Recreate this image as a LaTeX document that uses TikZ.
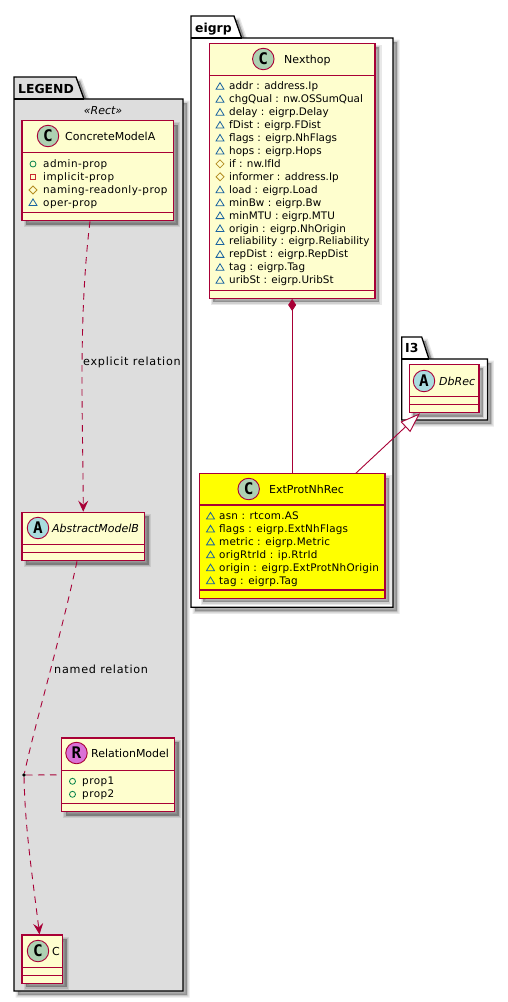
\documentclass[tikz,border=0pt]{standalone}
\usepackage{fontspec}
\setmainfont{DejaVu Sans}
\newfontfamily\monobf{DejaVu Sans Mono}[BoldFont=* Bold]
\newfontfamily\widefont{DejaVu Sans}[LetterSpace=4.4]
\newfontfamily\midfont{DejaVu Sans}[LetterSpace=2]
\newfontfamily\lblfont{DejaVu Sans}[LetterSpace=6.5]
\usetikzlibrary{arrows.meta,calc}
\definecolor{crim}{HTML}{A80036}
\definecolor{cream}{HTML}{FEFECE}
\definecolor{legendgray}{HTML}{DDDDDD}
\definecolor{circC}{HTML}{ADD1B2}
\definecolor{circA}{HTML}{A9DCDF}
\definecolor{circR}{HTML}{DA70D6}
\definecolor{pubc}{HTML}{038048}
\definecolor{pric}{HTML}{C82930}
\definecolor{proc}{HTML}{B38D22}
\definecolor{pacc}{HTML}{1963A0}
\definecolor{pureyellow}{HTML}{FFFF00}
\tikzset{
  softshadow/.style={
    preaction={fill=black,fill opacity=.09,draw=black,draw opacity=.09,line width=5pt,transform canvas={shift={(4pt,-4pt)}}},
    preaction={fill=black,fill opacity=.1,draw=black,draw opacity=.1,line width=2.5pt,transform canvas={shift={(4pt,-4pt)}}},
    preaction={fill=black,fill opacity=.14,draw=none,transform canvas={shift={(4pt,-4pt)}}}},
  classbox/.style={draw=crim,line width=1.2pt,fill=cream,rectangle,inner sep=0pt,softshadow},
  pkgbody/.style={draw=black,line width=1.3pt,softshadow},
  comp/.style={draw=crim,line width=1.1pt},
  badge/.style={circle,draw=crim,line width=.9pt,minimum size=21.5pt,inner sep=0pt,font=\fontsize{16}{16}\selectfont\bfseries\monobf},
  cname/.style={inner sep=0pt,anchor=base west,font=\fontsize{11}{13}\selectfont},
  attr/.style={inner sep=0pt,anchor=base west,font=\fontsize{10.4}{12}\selectfont},
  attrw/.style={attr,font=\fontsize{10.4}{12}\selectfont\widefont},
  attrm/.style={attr,font=\fontsize{10.4}{12}\selectfont\midfont},
  pkgname/.style={inner sep=0pt,anchor=base west,font=\fontsize{12.4}{14}\selectfont\bfseries},
  conn/.style={draw=crim,line width=.9pt},
  dashconn/.style={conn,dash pattern=on 6.5pt off 5.5pt},
  openarrow/.style={-{Stealth[length=11pt,width=10pt,inset=4pt,sep=0pt]}},
  lbl/.style={inner sep=0pt,anchor=base west,font=\fontsize{11.2}{13}\selectfont\lblfont}
}
\newcommand{\iconp}[2]{\draw[pubc,line width=.8pt] (#1,#2) circle (3pt);}
\newcommand{\iconq}[2]{\draw[pric,line width=.8pt] ($(#1,#2)+(-2.8,-2.8)$) rectangle ($(#1,#2)+(2.8,2.8)$);}
\newcommand{\iconr}[2]{\draw[proc,line width=.8pt] ($(#1,#2)+(-4,0)$) -- ($(#1,#2)+(0,-4)$) -- ($(#1,#2)+(4,0)$) -- ($(#1,#2)+(0,4)$) -- cycle;}
\newcommand{\icons}[2]{\draw[pacc,line width=.8pt] ($(#1,#2)+(-4,3)$) -- ($(#1,#2)+(0,-3.6)$) -- ($(#1,#2)+(4,3)$) -- cycle;}
\begin{document}
\begin{tikzpicture}[x=1pt,y=-1pt]
\useasboundingbox (0,0) rectangle (508,1002);
\fill[white] (0,0) rectangle (508,1002);
% packages
\path[pkgbody,fill=legendgray] (14,77) -- (76,77) -- (84,99) -- (183,99) -- (183,991) -- (14,991) -- cycle;
\draw[black,line width=1.3pt] (14,99) -- (84,99);
\node[pkgname] (plegend) at (18,93) {LEGEND};
\node[inner sep=0pt,font=\fontsize{11}{13}\selectfont\itshape] (rect) at (103,111) {«Rect»};
\path[pkgbody,fill=white] (191,16) -- (234,16) -- (241.7,38) -- (393,38) -- (393,607.3) -- (191,607.3) -- cycle;
\draw[black,line width=1.3pt] (191,38) -- (241.7,38);
\node[pkgname] (peigrp) at (195,32) {eigrp};
\path[pkgbody,fill=white] (401.7,337) -- (421.7,337) -- (429,359) -- (487.4,359) -- (487.4,420) -- (401.7,420) -- cycle;
\draw[black,line width=1.3pt] (401.7,359) -- (429,359);
\node[pkgname] (pi3) at (405,352.5) {I3};
% ConcreteModelA
\node[classbox,minimum width=151.5pt,minimum height=100.2pt] (cma) at (97.75,170.6) {};
\draw[comp] (22,152.3) -- (173.5,152.3);
\draw[comp] (22,212.3) -- (173.5,212.3);
\node[badge,fill=circC] (cmab) at (48,136) {C};
\node[cname] (cman) at (65,140.3) {ConcreteModelA};
\foreach \k/\t/\y [count=\i] in {p/admin-prop/164,q/implicit-prop/177,r/naming-readonly-prop/190,s/oper-prop/202.5}{
  \csname icon\k\endcsname{33}{\y}
  \node[attrw] (cma\i) at (43,\y+3.5) {\t};
}
% AbstractModelB
\node[classbox,minimum width=122.5pt,minimum height=48.4pt] (abm) at (83.25,536.5) {};
\draw[comp] (22,544.3) -- (144.5,544.3);
\draw[comp] (22,552.3) -- (144.5,552.3);
\node[badge,fill=circA] (abmb) at (38,528) {A};
\node[cname,font=\fontsize{11}{13}\selectfont\itshape] (abmn) at (52,532.3) {AbstractModelB};
% RelationModel
\node[classbox,minimum width=113pt,minimum height=73.7pt] (rm) at (118,774.85) {};
\draw[comp] (61.5,770.3) -- (174.5,770.3);
\draw[comp] (61.5,803.3) -- (174.5,803.3);
\node[badge,fill=circR] (rmb) at (76.5,753) {R};
\node[cname] (rmn) at (91,757.3) {RelationModel};
\foreach \t/\y [count=\i] in {prop1/781.3,prop2/794.3}{
  \iconp{72.5}{\y}
  \node[attrw] (rma\i) at (82,\y+3.5) {\t};
}
% C
\node[classbox,minimum width=40.5pt,minimum height=48.3pt] (cc) at (42.25,959.15) {};
\draw[comp] (22,967.3) -- (62.5,967.3);
\draw[comp] (22,975.3) -- (62.5,975.3);
\node[badge,fill=circC] (ccb) at (38,951) {C};
\node[cname] (ccn) at (52,955.3) {C};
% Nexthop
\node[classbox,minimum width=165.7pt,minimum height=255pt] (nh) at (292.15,170.8) {};
\draw[comp] (209.3,75.3) -- (375,75.3);
\draw[comp] (209.3,290.3) -- (375,290.3);
\node[badge,fill=circC] (nhb) at (263.3,59) {C};
\node[cname] (nhn) at (284,63.3) {Nexthop};
\foreach \k/\t [count=\i] in {s/addr : address.Ip,s/chgQual : nw.OSSumQual,s/delay : eigrp.Delay,s/fDist : eigrp.FDist,s/flags : eigrp.NhFlags,s/hops : eigrp.Hops,r/if : nw.IfId,r/informer : address.Ip,s/load : eigrp.Load,s/minBw : eigrp.Bw,s/minMTU : eigrp.MTU,s/origin : eigrp.NhOrigin,s/reliability : eigrp.Reliability,s/repDist : eigrp.RepDist,s/tag : eigrp.Tag,s/uribSt : eigrp.UribSt}{
  \pgfmathsetmacro{\yy}{86.3+(\i-1)*12.93}
  \csname icon\k\endcsname{220}{\yy}
  \node[attr] (nha\i) at (229,\yy+3.5) {\t};
}
% ExtProtNhRec
\node[classbox,fill=pureyellow,minimum width=185.7pt,minimum height=124.6pt] (epn) at (292.15,536) {};
\draw[comp] (199.3,505) -- (385,505);
\draw[comp] (199.3,590) -- (385,590);
\node[badge,fill=circC] (epnb) at (248.7,489) {C};
\node[cname] (epnn) at (269,493.3) {ExtProtNhRec};
\foreach \t [count=\i] in {asn : rtcom.AS,flags : eigrp.ExtNhFlags,metric : eigrp.Metric,origRtrId : ip.RtrId,origin : eigrp.ExtProtNhOrigin,tag : eigrp.Tag}{
  \pgfmathsetmacro{\yy}{516+(\i-1)*12.93}
  \icons{210.5}{\yy}
  \node[attrm] (epna\i) at (219,\yy+3.5) {\t};
}
% DbRec
\node[classbox,minimum width=69.7pt,minimum height=48.4pt] (db) at (444.15,388.5) {};
\draw[comp] (409.3,396.3) -- (479,396.3);
\draw[comp] (409.3,404.3) -- (479,404.3);
\node[badge,fill=circA] (dbb) at (424,381) {A};
\node[cname,font=\fontsize{11}{13}\selectfont\itshape] (dbn) at (439,385.3) {DbRec};
% connectors
\node[circle,fill=black,inner sep=0pt,minimum size=3.6pt] (rdot) at (24,775) {};
\draw[dashconn,openarrow] ([xshift=-7.75pt]cma.south) .. controls (78,320) and (83,420) .. (abm.north);
\draw[dashconn] ([xshift=-6.25pt]abm.south) .. controls (60,640) and (36,720) .. (rdot);
\draw[dashconn,openarrow] (rdot) .. controls (25,830) and (33,880) .. ([xshift=-2.75pt]cc.north);
\draw[dashconn] (rdot) -- (rm.west);
\draw[conn,{Diamond[length=12pt,width=8pt,sep=0pt,fill=crim]}-] (nh.south) -- (epn.north);
\draw[conn,{Triangle[open,length=20pt,width=14pt,sep=0pt,fill=white]}-] ([xshift=-24.15pt]db.south) -- ([xshift=63.85pt]epn.north);
\node[lbl] (lb1) at (83,365) {explicit relation};
\node[lbl] (lb2) at (54,673) {named relation};
\end{tikzpicture}
\end{document}
